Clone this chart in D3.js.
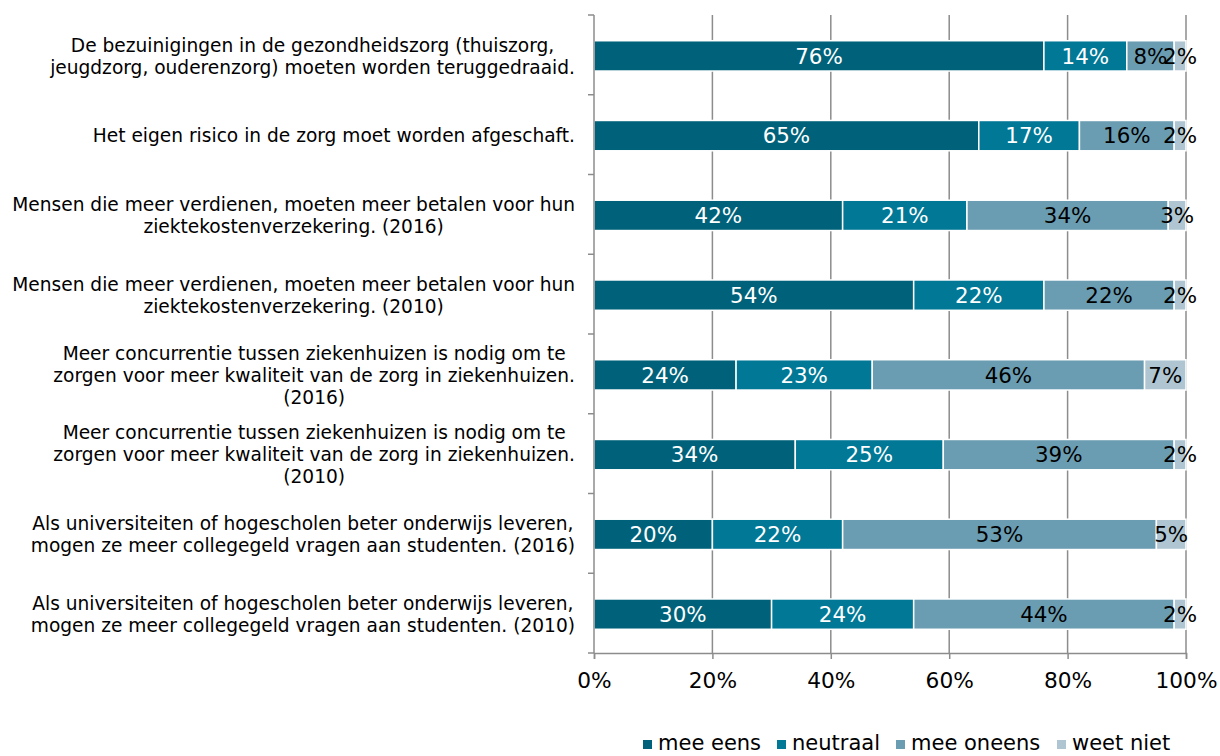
<!DOCTYPE html>
<html>
<head>
<meta charset="utf-8">
<script src="https://cdn.jsdelivr.net/npm/d3@7"></script>
<style>
	body { margin: 0; background: #fff; }
	svg { font-family: "DejaVu Sans", Verdana, sans-serif; }
</style>
</head>
<body>
<svg id="chart" width="1220" height="756"></svg>
<script>
var statements = [
	["De bezuinigingen in de gezondheidszorg (thuiszorg,", "jeugdzorg, ouderenzorg) moeten worden teruggedraaid."],
	["Het eigen risico in de zorg moet worden afgeschaft."],
	["Mensen die meer verdienen, moeten meer betalen voor hun", "ziektekostenverzekering. (2016)"],
	["Mensen die meer verdienen, moeten meer betalen voor hun", "ziektekostenverzekering. (2010)"],
	["Meer concurrentie tussen ziekenhuizen is nodig om te", "zorgen voor meer kwaliteit van de zorg in ziekenhuizen.", "(2016)"],
	["Meer concurrentie tussen ziekenhuizen is nodig om te", "zorgen voor meer kwaliteit van de zorg in ziekenhuizen.", "(2010)"],
	["Als universiteiten of hogescholen beter onderwijs leveren,", "mogen ze meer collegegeld vragen aan studenten. (2016)"],
	["Als universiteiten of hogescholen beter onderwijs leveren,", "mogen ze meer collegegeld vragen aan studenten. (2010)"]
];
var answers = ["mee eens", "neutraal", "mee oneens", "weet niet"];
var meeEens   = [76, 65, 42, 54, 24, 34, 20, 30];
var neutraal  = [14, 17, 21, 22, 23, 25, 22, 24];
var meeOneens = [8, 16, 34, 22, 46, 39, 53, 44];
var weetNiet  = [2, 2, 3, 2, 7, 2, 5, 2];
var xTicks = [0, 20, 40, 60, 80, 100];

var colors = ["#00627a", "#007896", "#6a9db2", "#afc6d2"];
var labelColors = ["#fff", "#fff", "#000", "#000"];

var svg = d3.select("#chart"),
	plotLeft = 594, plotRight = 1186, plotTop = 15, plotBottom = 653;

var rows = statements.map(function(s, i) {
	var vals = [meeEens[i], neutraal[i], meeOneens[i], weetNiet[i]];
	var row = { id: i, lines: s, segs: [] };
	var acc = 0;
	vals.forEach(function(v, k) {
		row.segs.push({ k: k, v: v, x0: acc, x1: acc + v });
		acc += v;
	});
	return row;
});

var x = d3.scaleLinear().domain([0, 100]).range([plotLeft, plotRight]);
var y = d3.scaleBand().domain(d3.range(rows.length)).range([plotTop, plotBottom]).paddingInner(0.62).paddingOuter(0.31);
var band = d3.scaleBand().domain(d3.range(rows.length)).range([plotTop, plotBottom]);

// gridlines
svg.append("g")
	.selectAll("line")
	.data(xTicks.slice(1))
	.enter().append("line")
	.attr("x1", function(d) { return x(d); })
	.attr("x2", function(d) { return x(d); })
	.attr("y1", plotTop).attr("y2", plotBottom)
	.attr("stroke", "#8c8c8c")
	.attr("stroke-width", 1.5);

// bars
var rowG = svg.append("g")
	.selectAll("g.row")
	.data(rows)
	.enter().append("g")
	.attr("class", "row")
	.attr("transform", function(d) { return "translate(0," + (y(d.id) + 1) + ")"; });

rowG.selectAll("rect")
	.data(function(d) { return d.segs; })
	.enter().append("rect")
	.attr("x", function(d) { return x(d.x0); })
	.attr("width", function(d) { return x(d.x1) - x(d.x0); })
	.attr("y", 0)
	.attr("height", y.bandwidth())
	.attr("fill", function(d) { return colors[d.k]; })
	.attr("stroke", "#fff")
	.attr("stroke-width", 1.5);

rowG.selectAll("text")
	.data(function(d) { return d.segs; })
	.enter().append("text")
	.attr("x", function(d) { return (x(d.x0) + x(d.x1)) / 2; })
	.attr("y", y.bandwidth() / 2)
	.attr("dy", "0.36em")
	.attr("text-anchor", "middle")
	.attr("font-size", 21.4)
	.attr("fill", function(d) { return labelColors[d.k]; })
	.text(function(d) { return d.v + "%"; });

// y axis line + ticks
svg.append("line")
	.attr("x1", plotLeft).attr("x2", plotLeft)
	.attr("y1", plotTop).attr("y2", plotBottom)
	.attr("stroke", "#8c8c8c").attr("stroke-width", 1.5);
svg.append("g")
	.selectAll("line")
	.data(d3.range(rows.length + 1))
	.enter().append("line")
	.attr("x1", plotLeft - 6).attr("x2", plotLeft)
	.attr("y1", function(d) { return plotTop + d * band.step(); })
	.attr("y2", function(d) { return plotTop + d * band.step(); })
	.attr("stroke", "#8c8c8c").attr("stroke-width", 1.5);

// x axis
var xAxis = svg.append("g")
	.attr("transform", "translate(0," + plotBottom + ")")
	.call(d3.axisBottom(x).tickValues(xTicks).tickSize(6).tickFormat(function(d) { return d + "%"; }));
xAxis.select(".domain").attr("stroke", "#8c8c8c").attr("stroke-width", 1.5);
xAxis.selectAll(".tick line").attr("stroke", "#8c8c8c").attr("stroke-width", 1.5);
xAxis.selectAll(".tick text")
	.attr("font-family", "DejaVu Sans, Verdana, sans-serif")
	.attr("font-size", 21.7)
	.attr("fill", "#000")
	.attr("y", 20)
	.attr("dy", "0.71em");

// category labels, block right aligned, lines centred
var labelG = svg.append("g")
	.selectAll("text")
	.data(rows)
	.enter().append("text")
	.attr("font-size", 18.6)
	.attr("fill", "#000")
	.attr("text-anchor", "middle");
labelG.each(function(d) {
	var t = d3.select(this);
	var lh = 22;
	var cy = band(d.id) + band.step() / 2 + 1 - (d.lines.length - 1) * lh / 2;
	d.lines.forEach(function(line, j) {
		t.append("tspan").attr("y", cy + j * lh).attr("dy", "0.36em").text(line);
	});
	var maxW = 0;
	t.selectAll("tspan").each(function() { maxW = Math.max(maxW, this.getComputedTextLength()); });
	t.selectAll("tspan").attr("x", 575 - maxW / 2);
});

// legend
var legendX = [643, 777, 896, 1057];
var legend = svg.append("g")
	.selectAll("g")
	.data(answers)
	.enter().append("g")
	.attr("transform", function(d, i) { return "translate(" + legendX[i] + ",750)"; });
legend.append("rect")
	.attr("x", 0).attr("y", -10)
	.attr("width", 9).attr("height", 9)
	.attr("fill", function(d, i) { return colors[i]; });
legend.append("text")
	.attr("x", 15)
	.attr("y", 0)
	.attr("font-size", 21)
	.attr("fill", "#000")
	.text(function(d) { return d; });
</script>
</body>
</html>
